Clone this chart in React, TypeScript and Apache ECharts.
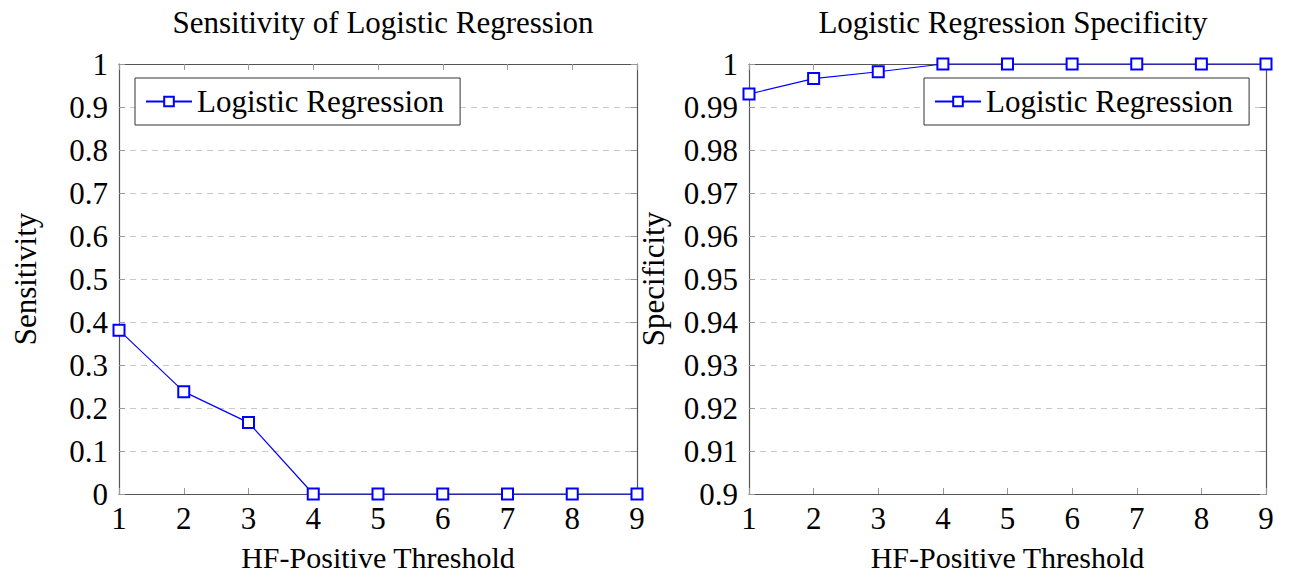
import React, { useEffect, useRef } from "react";
import * as echarts from "echarts";

const thresholds = [1, 2, 3, 4, 5, 6, 7, 8, 9];
const sensitivity = [0.381, 0.238, 0.166, 0, 0, 0, 0, 0, 0];
const specificity = [0.993, 0.9966, 0.9982, 1, 1, 1, 1, 1, 1];
const seriesName = "Logistic Regression";
const leftTitle = "Sensitivity of Logistic Regression";
const rightTitle = "Logistic Regression Specificity";
const xName = "HF-Positive Threshold";

const FONT = "Liberation Serif";
const BLUE = "#0000ff";
const FRAME = "#555";
const FS = 31;

export default function App() {
  const ref = useRef<HTMLDivElement>(null);
  useEffect(() => {
    const chart = echarts.init(ref.current!, undefined, { renderer: "svg" });
    const pts = (ys: number[]) => thresholds.map((x, i) => [x, ys[i]]);
    const fmt = (v: number) => String(parseFloat(v.toFixed(2)));
    const grids = [
      { left: 119, top: 64, width: 518, height: 430, containLabel: false, outerBoundsMode: "none" },
      { left: 749, top: 64, width: 517, height: 430, containLabel: false, outerBoundsMode: "none" },
    ];
    const xAxisBase = (gi: number, pos: "bottom" | "top") => ({
      type: "value",
      gridIndex: gi,
      position: pos,
      min: 1,
      max: 9,
      interval: 1,
      axisLine: { show: true, onZero: false, lineStyle: { color: FRAME, width: 1.2 } },
      axisTick: { show: true, inside: true, length: 6, lineStyle: { color: "#999" } },
      splitLine: { show: false },
      axisLabel: pos === "bottom"
        ? { show: true, fontFamily: FONT, fontSize: 31, color: "#000", margin: 9 }
        : { show: false },
      name: pos === "bottom" ? xName : "",
      nameLocation: "middle",
      nameGap: 48,
      nameTextStyle: { fontFamily: FONT, fontSize: 30, color: "#000", lineHeight: 30 },
    });
    const yAxisBase = (gi: number, pos: "left" | "right", min: number, max: number, interval: number, name: string) => ({
      type: "value",
      gridIndex: gi,
      position: pos,
      min,
      max,
      interval,
      axisLine: { show: true, onZero: false, lineStyle: { color: FRAME, width: 1.2 } },
      axisTick: { show: true, inside: true, length: 6, lineStyle: { color: "#999" } },
      splitLine: pos === "left"
        ? { show: true, lineStyle: { color: "#c8c8c8", type: [6, 5], width: 1 } }
        : { show: false },
      axisLabel: pos === "left"
        ? { show: true, fontFamily: FONT, fontSize: 31, color: "#000", margin: 11, formatter: fmt }
        : { show: false },
      name: pos === "left" ? name : "",
      nameLocation: "middle",
      nameGap: pos === "left" ? (gi === 0 ? 78 : 80) : 0,
      nameTextStyle: { fontFamily: FONT, fontSize: FS, color: "#000" },
    });
    const legendCommon = {
      orient: "horizontal",
      backgroundColor: "#fff",
      borderColor: "#333",
      borderWidth: 1,
      padding: [8, 16, 8, 10],
      itemWidth: 46,
      itemHeight: 12,
      itemGap: 8,
      textStyle: { fontFamily: FONT, fontSize: FS, color: "#000" },
    };
    const seriesCommon = {
      type: "line",
      name: seriesName,
      symbol: "emptyRect",
      symbolSize: 11,
      clip: false,
      lineStyle: { color: BLUE, width: 1.2 },
      itemStyle: { color: BLUE, borderColor: BLUE, borderWidth: 1.2 },
      z: 5,
    };
    chart.setOption({
      animation: false,
      title: [
        { text: leftTitle, left: 378, top: 2, textAlign: "center", textStyle: { fontFamily: FONT, fontSize: FS, fontWeight: "normal", color: "#000" } },
        { text: rightTitle, left: 1008, top: 2, textAlign: "center", textStyle: { fontFamily: FONT, fontSize: FS, fontWeight: "normal", color: "#000" } },
      ],
      grid: grids,
      legend: [
        { ...legendCommon, left: 135, top: 78, data: [{ name: seriesName }] },
        { ...legendCommon, left: 924, top: 78, data: [{ name: seriesName }] },
      ],
      xAxis: [xAxisBase(0, "bottom"), xAxisBase(0, "top"), xAxisBase(1, "bottom"), xAxisBase(1, "top")],
      yAxis: [
        yAxisBase(0, "left", 0, 1, 0.1, "Sensitivity"),
        yAxisBase(0, "right", 0, 1, 0.1, ""),
        yAxisBase(1, "left", 0.9, 1, 0.01, "Specificity"),
        yAxisBase(1, "right", 0.9, 1, 0.01, ""),
      ],
      series: [
        { ...seriesCommon, xAxisIndex: 0, yAxisIndex: 0, data: pts(sensitivity) },
        { ...seriesCommon, xAxisIndex: 2, yAxisIndex: 2, data: pts(specificity) },
      ],
    });
    return () => chart.dispose();
  }, []);
  return <div ref={ref} style={{ position: "absolute", left: 0, top: 0, width: 1289, height: 574, background: "#fff" }} />;
}
